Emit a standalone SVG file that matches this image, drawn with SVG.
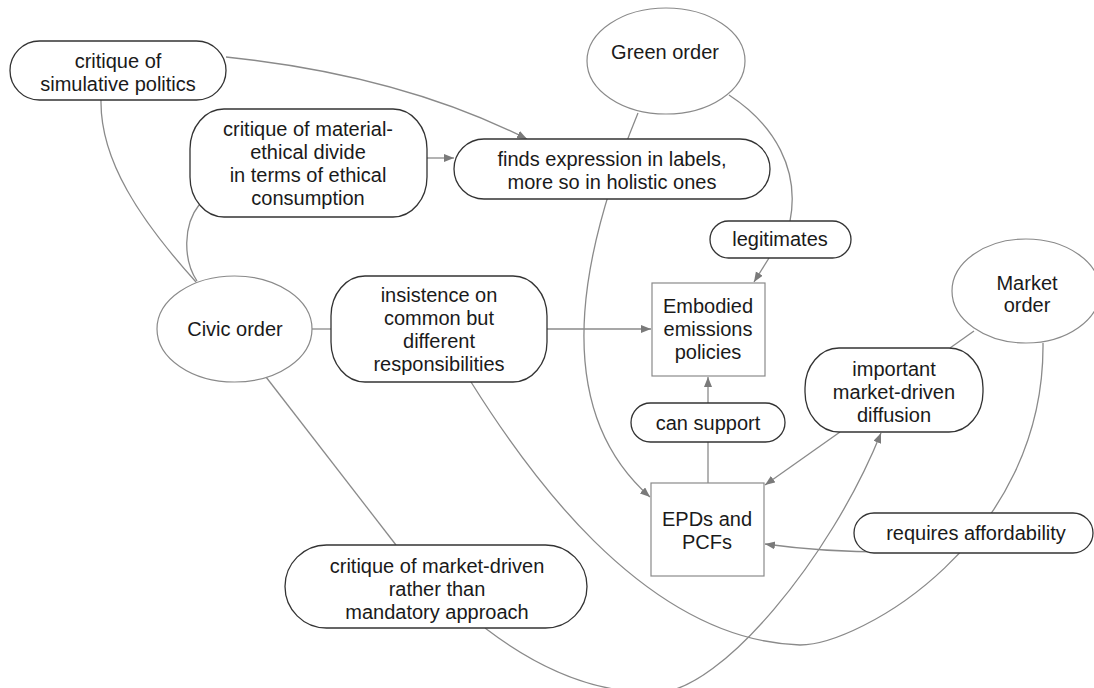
<svg xmlns="http://www.w3.org/2000/svg" width="1094" height="688" viewBox="0 0 1094 688">
<style>
.pill{fill:#fff;stroke:#333;stroke-width:1.3}
.oval{fill:#fff;stroke:#8a8a8a;stroke-width:1.2}
.box{fill:#fff;stroke:#8a8a8a;stroke-width:1.2}
.edge{fill:none;stroke:#8a8a8a;stroke-width:1.3}
text{font-family:"Liberation Sans",Arial,Helvetica,sans-serif;font-size:20px;fill:#1a1a1a;text-anchor:middle}
</style>
<defs>
<marker id="arr" markerUnits="userSpaceOnUse" markerWidth="11" markerHeight="9" refX="10" refY="4" orient="auto">
<path d="M0,0 L10,4 L0,8 z" fill="#7a7a7a"/>
</marker>
</defs>
<rect width="1094" height="688" fill="#fff"/>
<g id="connectors">
<path class="edge" d="M226,57 Q400,75 527,139" marker-end="url(#arr)"/>
<path class="edge" d="M101,100 C100,160 140,220 196,282"/>
<path class="edge" d="M199,205 C183,225 183,260 197,281"/>
<path class="edge" d="M427,158 L454,158" marker-end="url(#arr)"/>
<path class="edge" d="M729,95 C775,125 800,170 790,221"/>
<path class="edge" d="M638,113 C590,230 540,400 650,497" marker-end="url(#arr)"/>
<path class="edge" d="M769,258 L754,282" marker-end="url(#arr)"/>
<path class="edge" d="M312,329 L331,329"/>
<path class="edge" d="M547,329 L651,329" marker-end="url(#arr)"/>
<path class="edge" d="M266,377 L396,545"/>
<path class="edge" d="M471,382 C520,460 640,640 800,645 C860,645 1045,540 1043,343"/>
<path class="edge" d="M485,628 C540,670 600,695 660,692 C720,690 830,560 881,433" marker-end="url(#arr)"/>
<path class="edge" d="M974,331 L950,348"/>
<path class="edge" d="M840,432 L765,485" marker-end="url(#arr)"/>
<path class="edge" d="M708,483 L708,442"/>
<path class="edge" d="M708,403 L708,377" marker-end="url(#arr)"/>
<path class="edge" d="M903,552 Q830,553 765,544" marker-end="url(#arr)"/>
</g>
<g id="simulative">
<rect class="pill" x="10" y="41" width="216" height="59" rx="29.5"/>
<text x="118" y="68">critique of</text>
<text x="118" y="91">simulative politics</text>
</g>
<g id="material">
<rect class="pill" x="190" y="109" width="237" height="108" rx="34" ry="40"/>
<text x="308" y="136">critique of material-</text>
<text x="308" y="159">ethical divide</text>
<text x="308" y="182">in terms of ethical</text>
<text x="308" y="205">consumption</text>
</g>
<g id="finds">
<rect class="pill" x="454" y="139" width="316" height="60" rx="30"/>
<text x="612" y="166">finds expression in labels,</text>
<text x="612" y="189">more so in holistic ones</text>
</g>
<g id="green">
<ellipse class="oval" cx="666" cy="61" rx="79" ry="53"/>
<text x="665" y="59">Green order</text>
</g>
<g id="legitimates">
<rect class="pill" x="710" y="221" width="141" height="37" rx="18.5"/>
<text x="780" y="246">legitimates</text>
</g>
<g id="civic">
<ellipse class="oval" cx="234.5" cy="329" rx="77.5" ry="53"/>
<text x="235" y="336">Civic order</text>
</g>
<g id="insistence">
<rect class="pill" x="331" y="276" width="216" height="106" rx="34" ry="40"/>
<text x="439" y="302">insistence on</text>
<text x="439" y="325">common but</text>
<text x="439" y="348">different</text>
<text x="439" y="371">responsibilities</text>
</g>
<g id="embodied">
<rect class="box" x="652" y="283" width="113" height="93"/>
<text x="708" y="313">Embodied</text>
<text x="708" y="336">emissions</text>
<text x="708" y="359">policies</text>
</g>
<g id="market">
<ellipse class="oval" cx="1026" cy="291" rx="74" ry="52"/>
<text x="1027" y="290">Market</text>
<text x="1027" y="312">order</text>
</g>
<g id="diffusion">
<rect class="pill" x="805" y="348" width="178" height="84" rx="34" ry="40"/>
<text x="894" y="376">important</text>
<text x="894" y="399">market-driven</text>
<text x="894" y="422">diffusion</text>
</g>
<g id="cansupport">
<rect class="pill" x="631" y="403" width="154" height="39" rx="19.5"/>
<text x="708" y="430">can support</text>
</g>
<g id="epds">
<rect class="box" x="651" y="483" width="113" height="93"/>
<text x="707" y="526">EPDs and</text>
<text x="707" y="549">PCFs</text>
</g>
<g id="requires">
<rect class="pill" x="854" y="513" width="239" height="40" rx="20"/>
<text x="976" y="540">requires affordability</text>
</g>
<g id="critiquemarket">
<rect class="pill" x="285" y="545" width="302" height="83" rx="41.5"/>
<text x="437" y="573">critique of market-driven</text>
<text x="437" y="596">rather than</text>
<text x="437" y="619">mandatory approach</text>
</g>
</svg>
